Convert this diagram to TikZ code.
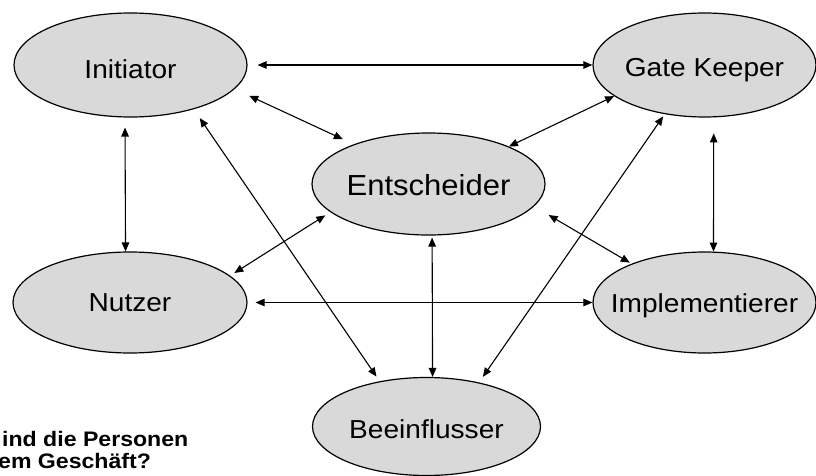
\documentclass[tikz,border=0pt]{standalone}
\usepackage{fontspec}
\setmainfont{Liberation Sans}
\usetikzlibrary{shapes.geometric,arrows.meta}
\definecolor{ellfill}{RGB}{217,217,217}
\newcommand\lbl[2][1.08]{\makebox[0pt]{\scalebox{#1}[1]{#2}}}
\tikzset{
  role/.style={ellipse, draw=black, line width=1.2pt, fill=ellfill, inner sep=0pt,
    font=\fontsize{26}{30}\selectfont, text depth=0pt},
  link/.style={line width=1.1pt, {Triangle[length=9pt,width=7.5pt]}-{Triangle[length=9pt,width=7.5pt]}},
  qtext/.style={inner sep=0pt, anchor=base west, font=\fontsize{21}{22}\selectfont\bfseries}
}
\begin{document}
\begin{tikzpicture}[x=1pt,y=-1pt]
\clip (0,0) rectangle (816,476);
\fill[white] (0,0) rectangle (816,476);

\node[role, minimum width=233pt, minimum height=104pt, text height=26.6pt] (ini) at (130.5,65) {\lbl{Initiator}};
\node[role, minimum width=223pt, minimum height=104pt, text height=23.6pt] (gk) at (704.5,65) {\lbl{Gate Keeper}};
\node[role, minimum width=233pt, minimum height=102pt, font=\fontsize{29}{33}\selectfont, text height=23.8pt] (ent) at (428.5,184) {\lbl[1.07]{Entscheider}};
\node[role, minimum width=234pt, minimum height=101pt, text height=18.6pt] (nut) at (130,302.5) {\lbl{Nutzer}};
\node[role, minimum width=223pt, minimum height=101pt, text height=19.6pt] (imp) at (704.5,302.5) {\lbl{Implementierer}};
\node[role, minimum width=228pt, minimum height=98pt, text height=24pt] (bee) at (426.5,426.5) {\lbl{Beeinflusser}};

\draw[link, shorten <=10pt] (ini.0) -- (gk.180);
\draw[link, shorten <=16pt, shorten >=12pt] (ini.-13.2) -- (ent.152.8);
\draw[link, shorten <=10pt] (ini.264) -- (nut.95.7);
\draw[link, shorten <=10.7pt, shorten >=5.6pt] (ini.-35.7) -- (bee.136.5);
\draw[link] (gk.199.6) -- (ent.25.8);
\draw[link, shorten <=16pt] (gk.-80.7) -- (imp.80.4);
\draw[link, shorten <=2.7pt, shorten >=6.8pt] (gk.231.7) -- (bee.40.4);
\draw[link, shorten <=6pt, shorten >=5pt] (ent.196) -- (nut.15.9);
\draw[link, shorten <=17pt, shorten >=2pt] (ent.-12.1) -- (imp.152.3);
\draw[link, shorten <=2pt] (ent.-86.1) -- (bee.83.6);
\draw[link, shorten <=8pt] (nut.0) -- (imp.180);

\node[qtext] (q1) at (2,446.7) {\scalebox{1.1}[1]{ind die Personen}};
\node[qtext] (q2) at (-2,468.5) {\scalebox{1.1}[1]{em Geschäft?}};
\end{tikzpicture}
\end{document}
